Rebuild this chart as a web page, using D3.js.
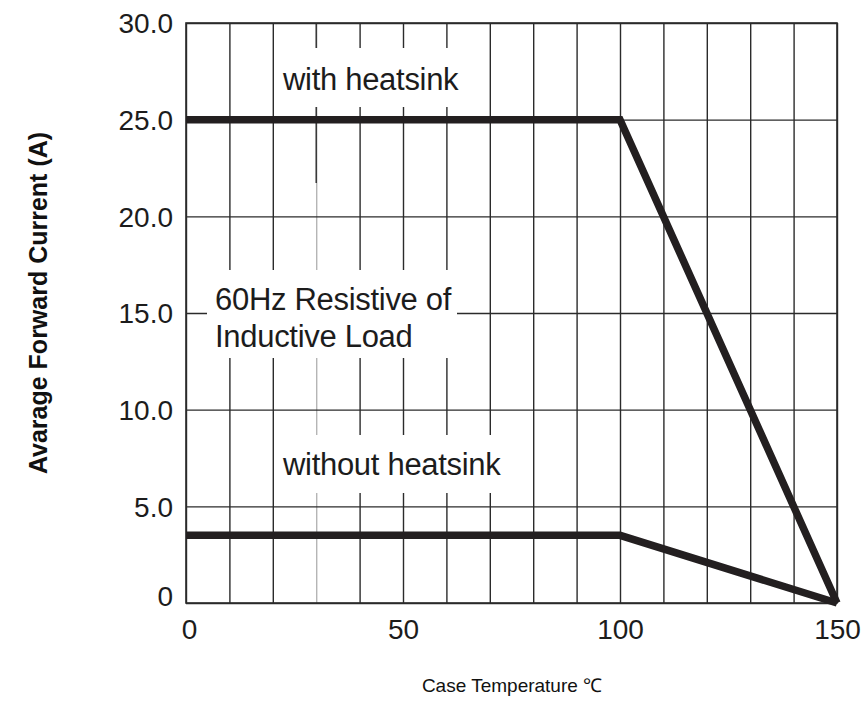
<!DOCTYPE html>
<html>
<head>
<meta charset="utf-8">
<script src="https://cdn.jsdelivr.net/npm/d3@7"></script>
<style>
  html, body { margin: 0; padding: 0; background: #fff; }
  svg { display: block; }
</style>
</head>
<body>
<svg id="chart" width="863" height="709"></svg>
<script>
// ---- data ----
const xTickValues = [0, 50, 100, 150];
const xTickLabels = ["0", "50", "100", "150"];
const yTickValues = [0, 5, 10, 15, 20, 25, 30];
const yTickLabels = ["0", "5.0", "10.0", "15.0", "20.0", "25.0", "30.0"];
const xGrid = [0, 10, 20, 30, 40, 50, 60, 70, 80, 90, 100, 110, 120, 130, 140, 150];
const yGrid = [0, 5, 10, 15, 20, 25, 30];
const withHeatsinkT = [0, 100, 150];
const withHeatsinkI = [25, 25, 0];
const withoutHeatsinkT = [0, 100, 150];
const withoutHeatsinkI = [3.5, 3.5, 0];
const xTitle = "Case Temperature \u2103";
const yTitle = "Avarage Forward Current (A)";

(function () {
// ---- layout ----
const svg = d3.select("#chart");
const pL = 186, pR = 837, pT = 23, pB = 603;
const x = d3.scaleLinear().domain([0, 150]).range([pL, pR]);
const y = d3.scaleLinear().domain([0, 30]).range([pB, pT]);
const gridColor = "#2b2b2b";
const font = "'Liberation Sans', Arial, Helvetica, sans-serif";

// gridlines via axes
const gx = svg.append("g").attr("transform", `translate(0,${pB})`)
  .call(d3.axisBottom(x).tickValues(xGrid).tickSize(-(pB - pT)).tickFormat(""));
gx.select(".domain").remove();
gx.selectAll(".tick line").attr("stroke-width", 1.4)
  .attr("stroke", d => d === 30 ? "#b5b5b5" : gridColor);
// dark top part of the x=30 line
svg.append("line").attr("x1", x(30)).attr("x2", x(30)).attr("y1", pT).attr("y2", 183)
  .attr("stroke", gridColor).attr("stroke-width", 1.4);

const gy = svg.append("g").attr("transform", `translate(${pL},0)`)
  .call(d3.axisLeft(y).tickValues(yGrid).tickSize(-(pR - pL)).tickFormat(""));
gy.select(".domain").remove();
gy.selectAll(".tick line").attr("stroke", gridColor).attr("stroke-width", 1.4);

// frame
svg.append("rect").attr("x", pL).attr("y", pT).attr("width", pR - pL).attr("height", pB - pT)
  .attr("fill", "none").attr("stroke", gridColor).attr("stroke-width", 1.6);

// white masks behind annotation labels
const masks = [
  {x0: 290, x1: 470, y0: 48, y1: 107},
  {x0: 207, x1: 457, y0: 270, y1: 358},
  {x0: 290, x1: 508, y0: 435, y1: 493}
];
svg.selectAll("rect.mask").data(masks).join("rect").attr("class", "mask")
  .attr("x", d => d.x0).attr("y", d => d.y0)
  .attr("width", d => d.x1 - d.x0).attr("height", d => d.y1 - d.y0)
  .attr("fill", "#fff");

// tick labels
const ax = svg.append("g").attr("transform", `translate(0,${pB})`)
  .call(d3.axisBottom(x).tickValues(xTickValues).tickSize(0).tickPadding(0)
    .tickFormat((d, i) => xTickLabels[i]));
ax.select(".domain").remove();
ax.selectAll("text").attr("y", 36).attr("dy", 0).attr("font-family", font).attr("font-size", 28)
  .attr("fill", "#1c1c1c").attr("x", d => d === 0 ? 3 : 0);

const ay = svg.append("g").attr("transform", `translate(${pL},0)`)
  .call(d3.axisLeft(y).tickValues(yTickValues).tickSize(0).tickPadding(0)
    .tickFormat((d, i) => yTickLabels[i]));
ay.select(".domain").remove();
ay.selectAll("text").attr("x", -13).attr("dy", d => d === 0 ? "0.1em" : "0.35em")
  .attr("font-family", font).attr("font-size", 28).attr("fill", "#1c1c1c");

// data lines
const line = d3.line().x(d => x(d[0])).y(d => y(d[1]));
const series = [
  d3.zip(withHeatsinkT, withHeatsinkI),
  d3.zip(withoutHeatsinkT, withoutHeatsinkI)
];
svg.selectAll("path.series").data(series).join("path").attr("class", "series")
  .attr("d", line).attr("fill", "none").attr("stroke", "#231f20")
  .attr("stroke-width", 7.5).attr("stroke-linejoin", "miter").attr("stroke-miterlimit", 10);

// annotations
const ann = [
  {t: "with heatsink", x: 283, y: 90},
  {t: "60Hz Resistive of", x: 215, y: 310},
  {t: "Inductive Load", x: 215, y: 347},
  {t: "without heatsink", x: 283, y: 475}
];
svg.selectAll("text.ann").data(ann).join("text").attr("class", "ann")
  .attr("x", d => d.x).attr("y", d => d.y).text(d => d.t)
  .attr("font-family", font).attr("font-size", 31).attr("letter-spacing", -0.3)
  .attr("fill", "#1c1c1c");

// axis titles
svg.append("text").attr("x", 512).attr("y", 692).attr("text-anchor", "middle")
  .attr("font-family", font).attr("font-size", 19).attr("fill", "#111").text(xTitle);
svg.append("text").attr("transform", "translate(47,303) rotate(-90)").attr("text-anchor", "middle")
  .attr("font-family", font).attr("font-size", 25).attr("font-weight", "bold")
  .attr("fill", "#111").text(yTitle);
})();
</script>
</body>
</html>
